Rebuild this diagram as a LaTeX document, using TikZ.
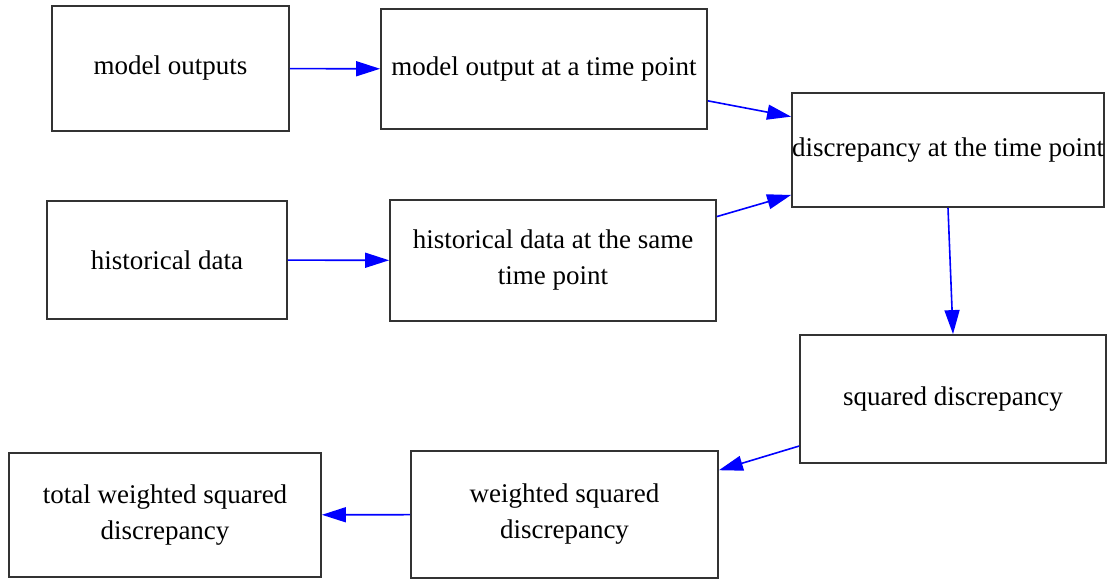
\documentclass[tikz,border=0pt]{standalone}
\usepackage{fontspec}
\setmainfont{Liberation Serif}
\usetikzlibrary{arrows.meta}

\begin{document}
\begin{tikzpicture}[x=0.5pt,y=-0.5pt,
    box/.style={draw=black!80,line width=0.9pt,inner sep=0pt,align=center,
                font=\fontsize{13.5}{18}\selectfont},
    >={Triangle[length=12pt,width=7.5pt]}]
   \useasboundingbox (0,0) rectangle (1107,581);
   \node[box,minimum width=118.5pt,minimum height=62.5pt] (m_0) at (170.5,68.5) {model outputs};
   \node[box,minimum width=163pt,minimum height=60pt] (m_1) at (544,69) {model output at a time point};
   \node[box,minimum width=156pt,minimum height=57pt] (d_0) at (948,150) {discrepancy at the time point};
   \node[box,minimum width=120pt,minimum height=59pt] (h_0) at (167,260) {historical data};
   \node[box,minimum width=163pt,minimum height=60.5pt] (h_1) at (553,260.5) {historical data at the same\\time point};
   \node[box,minimum width=153pt,minimum height=64pt] (s_0) at (953,399) {squared discrepancy};
   \node[box,minimum width=153.5pt,minimum height=63.5pt] (w_0) at (564.5,514.5) {weighted squared\\discrepancy};
   \node[box,minimum width=156pt,minimum height=62pt] (w_1) at (165,515) {total weighted squared\\discrepancy};
    \path[->,blue,line width=0.8pt]
    (m_0)       edge (m_1)
    (h_0)       edge (h_1)
    (m_1.-11)   edge (d_0.168)
    (h_1.15)    edge (d_0.196)
    (d_0.south) edge (s_0.north)
    (s_0.197)   edge (w_0.16)
    (w_0)       edge (w_1);
\end{tikzpicture}
\end{document}
